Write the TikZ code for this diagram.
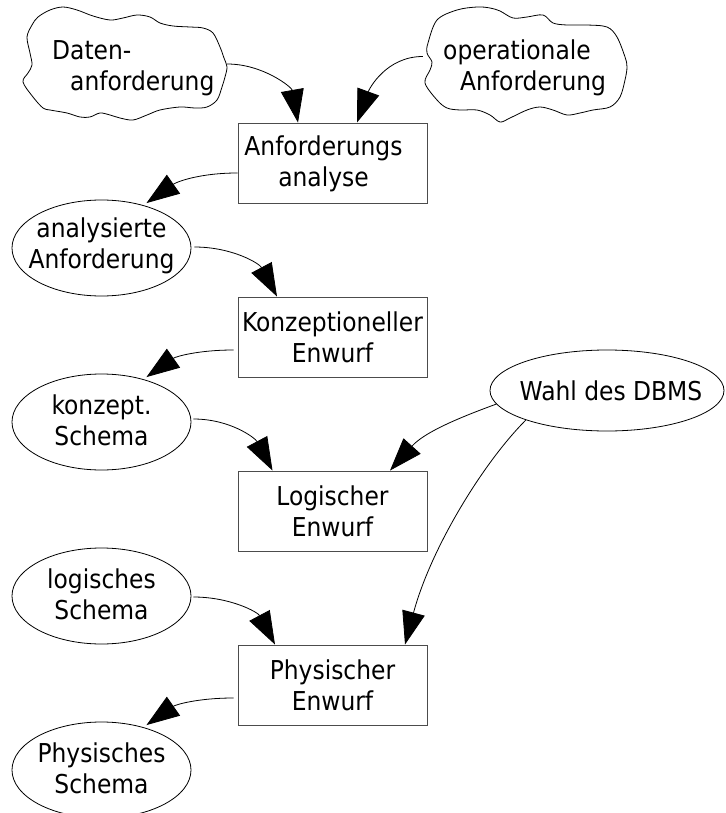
\documentclass[tikz,border=0pt]{standalone}
\usepackage{fontspec}
\setmainfont{DejaVu Sans Condensed}
\usetikzlibrary{arrows.meta,calc,shapes.geometric}

\begin{document}
\begin{tikzpicture}[x=1pt,y=1pt,
  every node/.style={font=\fontsize{26}{31}\selectfont, inner sep=0pt},
  stepbox/.style={draw=black!70, line width=0.9pt, minimum width=189pt, minimum height=80pt, align=center},
  result/.style={draw, ellipse, line width=0.8pt, minimum width=179pt, minimum height=96pt},
  choice/.style={draw, ellipse, line width=0.8pt, minimum width=234pt, minimum height=81pt},
  caption/.style={align=center},
  cloudtext/.style={align=left, anchor=west},
  cloudarea/.style={minimum width=204pt, minimum height=113pt},
  cloudline/.style={line width=0.8pt, line join=round},
  link/.style={line width=0.8pt, -{Triangle[length=33pt,width=23pt]}}
]
\useasboundingbox (0,0) rectangle (725,-813);

% requirement clouds
\draw[cloudline] plot[smooth cycle, tension=0.55] coordinates {
  (27,-37) (32,-25) (38,-17) (50,-10) (63,-7) (77,-10) (93,-16) (110,-20)
  (123,-18) (137,-15) (150,-17) (160,-23) (173,-26) (190,-27) (203,-28)
  (213,-33) (220,-47) (224,-58) (227,-67) (225,-77) (222,-87) (217,-100)
  (207,-107) (195,-108) (180,-107) (160,-110) (147,-115) (133,-120)
  (120,-118) (110,-115) (100,-113) (90,-117) (80,-117) (67,-113) (50,-110)
  (43,-108) (33,-97) (23,-82) (28,-73) (32,-65) (30,-53)};
\node[cloudarea] (c1) at (125,-64) {};
\node[cloudtext] (c1t) at (52,-68) {Daten-\\\hspace*{18pt}anforderung};

\draw[cloudline] plot[smooth cycle, tension=0.55] coordinates {
  (428,-43) (437,-20) (457,-10) (477,-7) (490,-8) (500,-11) (513,-18)
  (527,-17) (543,-15) (553,-23) (567,-25) (587,-25) (607,-27) (617,-37)
  (625,-57) (627,-67) (625,-80) (620,-97) (610,-107) (593,-110) (580,-113)
  (567,-115) (553,-110) (540,-107) (527,-110) (510,-118) (500,-122)
  (490,-115) (477,-110) (460,-110) (447,-108) (437,-100) (425,-83)
  (430,-70) (432,-62) (427,-53)};
\node[cloudarea] (c2) at (525,-64.5) {};
\node[cloudtext] (c2t) at (443,-68) {operationale\\\hspace*{17pt}Anforderung};

% design steps
\node[stepbox] (a1) at (332.5,-163) {};
\node[caption] (a1t) at ([xshift=-9pt,yshift=-1pt]a1.center) {Anforderungs\\analyse};
\node[stepbox] (k)  at (332.5,-337) {Konzeptioneller\\Enwurf};
\node[stepbox] (l)  at (332.5,-511) {Logischer\\Enwurf};
\node[stepbox] (p)  at (332.5,-685) {Physischer\\Enwurf};

% intermediate results (fixed-size ellipses, text set on top)
\node[result] (e1) at (101.5,-248) {};
\node[caption] (e1t) at ([yshift=2pt]e1.center) {analysierte\\Anforderung};
\node[result] (e2) at (101.5,-422) {};
\node[caption] (e2t) at ([yshift=2pt]e2.center) {konzept.\\Schema};
\node[result] (e3) at (101.5,-596) {};
\node[caption] (e3t) at ([yshift=2pt]e3.center) {logisches\\Schema};
\node[result] (e4) at (101.5,-770) {};
\node[caption] (e4t) at ([yshift=2pt]e4.center) {Physisches\\Schema};

\node[choice] (w) at (607,-390.5) {};
\node[caption] (wt) at ([xshift=4pt]w.center) {Wahl des DBMS};

% flow
\draw[link] (c1.east) to[out=0,in=100] ([xshift=-34.5pt]a1.north);
\draw[link] ([yshift=8pt]c2.west) to[out=180,in=70] ([xshift=24.5pt]a1.north);
\draw[link] ([yshift=-10pt]a1.west) to[out=180,in=35] ([yshift=3pt]e1.43);
\draw[link] ([xshift=3pt,yshift=1pt]e1.east) to[out=0,in=118] ([xshift=-55.5pt]k.north);
\draw[link] ([xshift=-4pt,yshift=-13pt]k.west) to[out=180,in=35] ([yshift=3pt]e2.43);
\draw[link] ([xshift=2pt,yshift=3pt]e2.east) to[out=0,in=118] ([xshift=-60pt]l.north);
\draw[link] (w.187) to[out=200,in=48] ([xshift=57.5pt]l.north);
\draw[link] ([xshift=2pt,yshift=-1pt]e3.east) to[out=0,in=118] ([xshift=-57.5pt]p.north);
\draw[link] (w.200) .. controls +(225:60) and +(75:100) .. ([xshift=72.5pt]p.north);
\draw[link] ([xshift=-4pt,yshift=-13pt]p.west) to[out=180,in=35] ([yshift=3pt]e4.43);
\end{tikzpicture}
\end{document}
